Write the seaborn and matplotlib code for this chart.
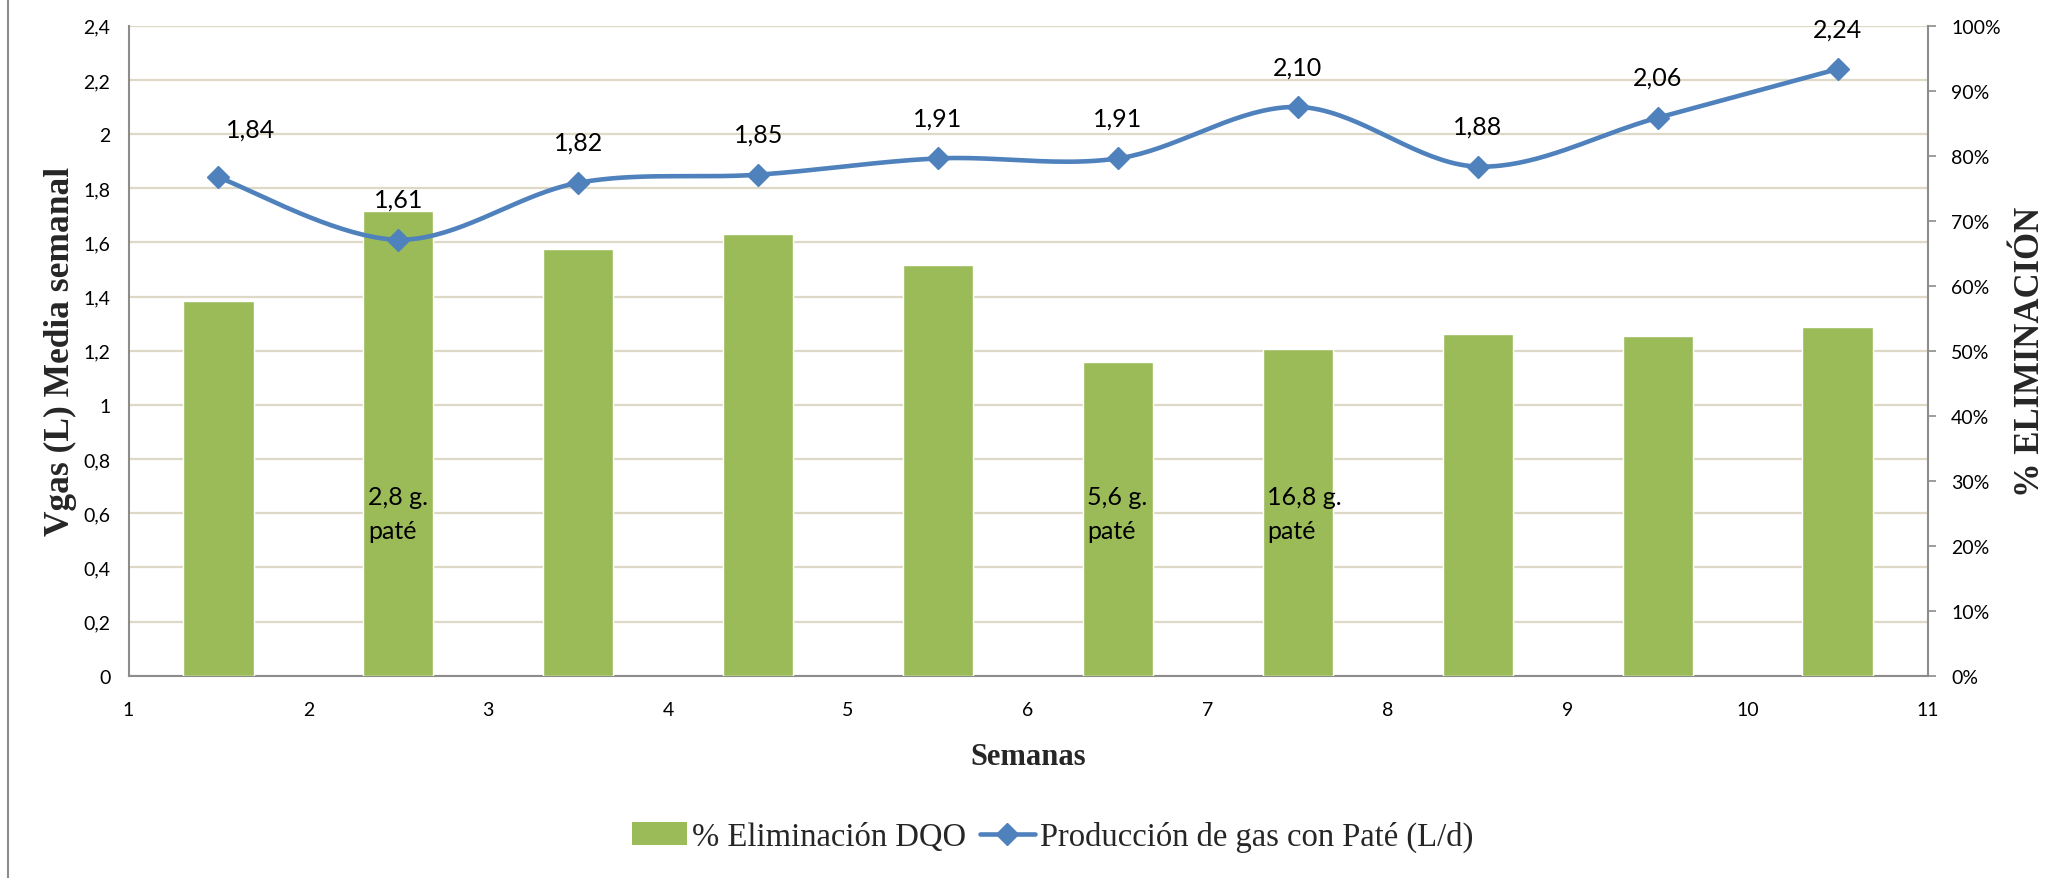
import numpy as np
import matplotlib
matplotlib.use("Agg")
import matplotlib.pyplot as plt
from matplotlib.lines import Line2D
from matplotlib.patches import Patch
from matplotlib.ticker import FuncFormatter, MultipleLocator, FixedLocator
import seaborn as sns

# ---- data -------------------------------------------------------------
semana_centro = [1.5, 2.5, 3.5, 4.5, 5.5, 6.5, 7.5, 8.5, 9.5, 10.5]
eliminacion_dqo = [57.7, 71.5, 65.7, 67.9, 63.2, 48.2, 50.2, 52.6, 52.2, 53.7]   # %
gas_pate = [1.84, 1.61, 1.82, 1.85, 1.91, 1.91, 2.10, 1.88, 2.06, 2.24]          # L/d
semanas_ticks = list(range(1, 12))
notas_semana = [2.5, 6.5, 7.5]
notas_texto = ["2,8 g.\npaté", "5,6 g.\npaté", "16,8 g.\npaté"]

serie_barras = "% Eliminación DQO"
serie_linea = "Producción de gas con Paté (L/d)"

# ---- style ------------------------------------------------------------
sns.set_style("white")
plt.rcParams["font.family"] = ["Lato", "DejaVu Sans"]
VERDE = "#9BBB59"
AZUL = "#4F81BD"
REJILLA = "#DDD9C6"
EJE = "#8C8C8C"
SERIF = ["Liberation Serif", "DejaVu Serif"]


def suavizado(x, y, n=40):
    """Smoothed polyline through the points (cubic Bezier, Catmull-Rom tangents)."""
    p = np.column_stack([x, y]).astype(float)
    pad = np.vstack([p[0], p, p[-1]])
    t = np.linspace(0, 1, n)[:, None]
    tramos = []
    for i in range(len(p) - 1):
        p0, p1, p2, p3 = pad[i], pad[i + 1], pad[i + 2], pad[i + 3]
        c1 = p1 + (p2 - p0) / 6
        c2 = p2 - (p3 - p1) / 6
        seg = (1 - t) ** 3 * p1 + 3 * (1 - t) ** 2 * t * c1 + 3 * (1 - t) * t ** 2 * c2 + t ** 3 * p2
        tramos.append(seg if i == 0 else seg[1:])
    return np.vstack(tramos)


def coma(v, _=None):
    s = f"{v:.1f}".rstrip("0").rstrip(".")
    return s.replace(".", ",")


fig = plt.figure(figsize=(20.56, 8.79), dpi=100)
ax = fig.add_axes([0.0625, 0.2301, 0.875, 0.7395])
ax_bar = ax.twinx()
ax_line = ax.twinx()

# base axes: left scale + gridlines
ax.set_xlim(1, 11)
ax.set_ylim(0, 2.4)
ax.yaxis.set_major_locator(MultipleLocator(0.2))
ax.yaxis.set_major_formatter(FuncFormatter(coma))
ax.grid(axis="y", color=REJILLA, lw=1.6)
ax.grid(axis="x", visible=False)
ax.tick_params(axis="y", length=0, pad=13, labelsize=14, colors="black")
ax.tick_params(axis="x", length=0, pad=18, labelsize=14, colors="black")
ax.xaxis.set_major_locator(FixedLocator(semanas_ticks))
ax.set_xticklabels([str(s) for s in semanas_ticks])
for side in ("top", "right"):
    ax.spines[side].set_visible(False)
for side in ("left", "bottom"):
    ax.spines[side].set_color(EJE)
    ax.spines[side].set_linewidth(1.5)

# bars on the percentage scale
sns.barplot(x=semana_centro, y=eliminacion_dqo, native_scale=True, width=0.39,
            color=VERDE, saturation=1, errorbar=None, ax=ax_bar, zorder=2)
ax_bar.set_xlim(1, 11)
ax_bar.set_ylim(0, 100)
ax_bar.yaxis.set_major_locator(MultipleLocator(10))
ax_bar.yaxis.set_major_formatter(FuncFormatter(lambda v, _: f"{v:.0f}%"))
ax_bar.yaxis.tick_right()
ax_bar.tick_params(axis="y", length=6, width=1.2, pad=11, labelsize=14, colors="black")
ax_bar.tick_params(axis="y", color=EJE)
ax_bar.set_xlabel("")
ax_bar.set_ylabel("")
for side in ("top", "left", "bottom"):
    ax_bar.spines[side].set_visible(False)
ax_bar.spines["right"].set_color(EJE)
ax_bar.spines["right"].set_linewidth(1.5)

for xs, txt in zip(notas_semana, notas_texto):
    ax_bar.text(xs - 0.17, 25.0, txt, ha="left", va="center", fontsize=18,
                linespacing=1.6, color="black")

# smoothed gas-production line
curva = suavizado(semana_centro, gas_pate)
sns.lineplot(x=curva[:, 0], y=curva[:, 1], sort=False, estimator=None,
             color=AZUL, lw=3.3, ax=ax_line)
ax_line.plot(semana_centro, gas_pate, ls="none", marker="D", ms=11, color=AZUL)
ax_line.set_xlim(1, 11)
ax_line.set_ylim(0, 2.4)
ax_line.yaxis.set_visible(False)
ax_line.set_xlabel("")
ax_line.set_ylabel("")
for s in ax_line.spines.values():
    s.set_visible(False)

desplaz = {0: (23, 35)}
for i, (xs, v) in enumerate(zip(semana_centro, gas_pate)):
    dx, dy = desplaz.get(i, (0, 29))
    ax_line.annotate(f"{v:.2f}".replace(".", ","), (xs, v), xytext=(dx, dy),
                     textcoords="offset points", ha="center", va="center",
                     fontsize=18, color="black")

# axis titles
fig.text(0.0292, 0.6007, "Vgas (L) Media semanal", rotation=90, ha="center", va="center",
         family=SERIF, fontweight="bold", fontsize=25.5)
fig.text(0.9874, 0.5995, "% ELIMINACIÓN", rotation=90, ha="center", va="center",
         family=SERIF, fontweight="bold", fontsize=25)
fig.text(0.5, 0.1377, "Semanas", ha="center", va="center",
         family=SERIF, fontweight="bold", fontsize=22)

# legend
handles = [Patch(facecolor=VERDE, edgecolor="none"),
           Line2D([], [], color=AZUL, lw=3.3, marker="D", ms=11)]
fig.legend(handles, [serie_barras, serie_linea], loc="center", bbox_to_anchor=(0.512, 0.047),
           ncol=2, frameon=False, prop={"family": SERIF, "size": 23.5},
           handlelength=1.7, handletextpad=0.15, columnspacing=0.4)

# chart-area border on the left edge
fig.add_artist(Line2D([0.0039, 0.0039], [0, 1], transform=fig.transFigure, color=EJE, lw=1.5))

fig.savefig("out.png", dpi=100)
